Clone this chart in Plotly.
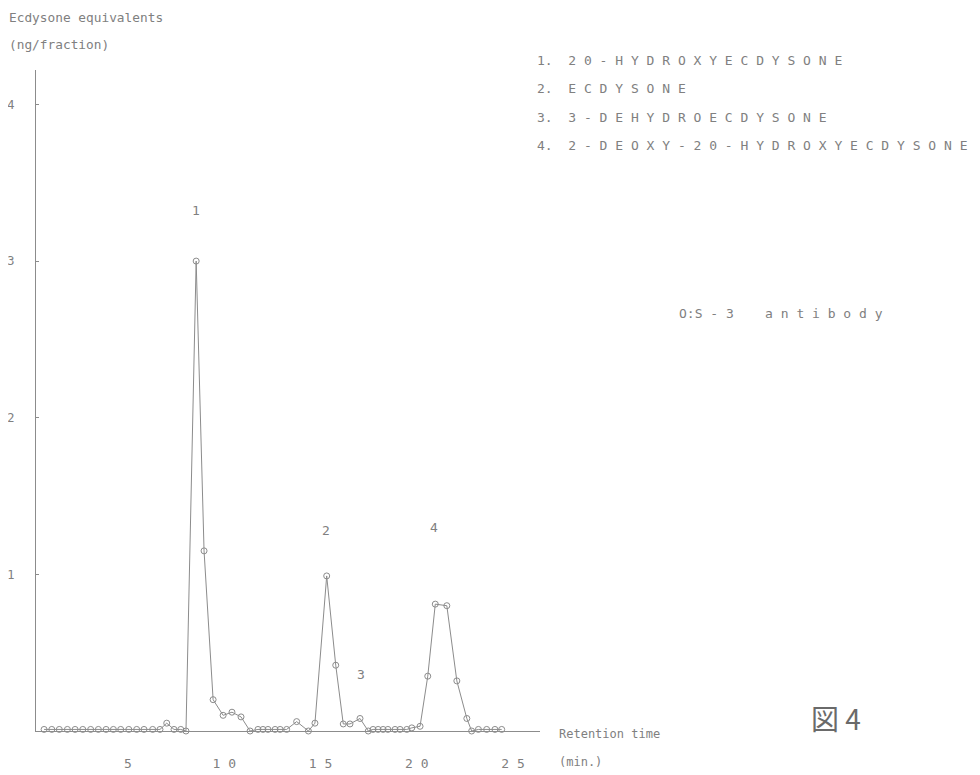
import plotly.graph_objects as go

# Retention time (min) and ecdysone equivalents (ng/fraction), S-3 antibody
retention_min = [
    0.64, 1.04, 1.43, 1.85, 2.25, 2.65, 3.06, 3.46, 3.86, 4.24,
    4.62, 5.04, 5.45, 5.83, 6.28, 6.66, 7.01, 7.39, 7.74, 8.01,
    8.54, 8.95, 9.42, 9.94, 10.40, 10.87, 11.34,
    11.75, 12.01, 12.27, 12.64, 12.90, 13.24, 13.76, 14.37, 14.71,
    15.32, 15.79, 16.18, 16.53, 17.05, 17.48,
    17.73, 17.99, 18.25, 18.50, 18.87, 19.13, 19.48, 19.74, 20.17,
    20.57, 20.96, 21.56, 22.08, 22.60, 22.85,
    23.20, 23.63, 24.06, 24.41,
]
ecdysone_eq = [
    0.01, 0.01, 0.01, 0.01, 0.01, 0.01, 0.01, 0.01, 0.01, 0.01,
    0.01, 0.01, 0.01, 0.01, 0.01, 0.01, 0.05, 0.01, 0.01, 0.00,
    3.00, 1.15, 0.20, 0.10, 0.12, 0.09, 0.00,
    0.01, 0.01, 0.01, 0.01, 0.01, 0.01, 0.06, 0.00, 0.05,
    0.99, 0.42, 0.045, 0.045, 0.08, 0.00,
    0.01, 0.01, 0.01, 0.01, 0.01, 0.01, 0.01, 0.02, 0.03,
    0.35, 0.81, 0.80, 0.32, 0.08, 0.00,
    0.01, 0.01, 0.01, 0.01,
]

peak_labels = ["1", "2", "3", "4"]
peak_label_x = [8.53, 15.29, 17.10, 20.90]
peak_label_y = [3.32, 1.28, 0.36, 1.30]

x_tick_vals = [5, 10, 15, 20, 25]
x_tick_text = ["5", "1 0", "1 5", "2 0", "2 5"]
y_tick_vals = [1, 2, 3, 4]
y_tick_text = ["1", "2", "3", "4"]

compound_names = [
    "1.  2 0 - H Y D R O X Y E C D Y S O N E",
    "2.  E C D Y S O N E",
    "3.  3 - D E H Y D R O E C D Y S O N E",
    "4.  2 - D E O X Y - 2 0 - H Y D R O X Y E C D Y S O N E",
]

GRAY = "#8c8c8c"
TXT = "#808080"
MONO = "DejaVu Sans Mono"

fig = go.Figure()
fig.add_trace(go.Scatter(
    x=retention_min, y=ecdysone_eq, mode="lines+markers",
    line=dict(color=GRAY, width=1),
    marker=dict(symbol="circle-open", size=6, color=GRAY, line=dict(width=1)),
    showlegend=False, cliponaxis=False,
))

for t, lx, ly in zip(peak_labels, peak_label_x, peak_label_y):
    fig.add_annotation(x=lx, y=ly, xref="x", yref="y", text=t, showarrow=False,
                       font=dict(family=MONO, size=13, color=TXT))

def ann(text, x, y, xanchor="left", size=12, color=TXT, family=MONO):
    fig.add_annotation(x=x, y=y, xref="paper", yref="paper", text=text,
                       showarrow=False, xanchor=xanchor, yanchor="middle",
                       font=dict(family=family, size=size, color=color))

# page pixel -> paper helpers (plot area on the page: x 36..540, y 70..731)
def px(p):
    return (p - 36) / 504.0

def py(p):
    return (731 - p) / 661.0

ann("Ecdysone equivalents", px(7), py(17), size=12.8)
ann("(ng/fraction)", px(7), py(44), size=12.8)
for i, name in enumerate(compound_names):
    ann(name, px(535), py(60 + 28.5 * i), size=13)
ann("O:S - 3    a n t i b o d y", px(677), py(313), size=13)
ann("Retention time", px(557), py(734), size=12)
ann("(min.)", px(557), py(762), size=12)
ann("図 4", px(836), py(718), xanchor="center", size=28, color="#6a6a6a",
    family="Noto Sans CJK JP")

# the page body has an 8px margin, so the figure's own margins are offset by 8
fig.update_layout(
    width=980, height=775,
    margin=dict(l=28, r=448, t=62, b=52),
    paper_bgcolor="white", plot_bgcolor="white",
    xaxis=dict(range=[0.22, 26.4], showgrid=False, zeroline=False,
               showline=True, linecolor=GRAY, linewidth=1, automargin=False,
               tickvals=x_tick_vals, ticktext=x_tick_text, ticks="",
               ticklabelstandoff=20,
               tickfont=dict(family=MONO, size=13, color=TXT)),
    yaxis=dict(range=[0, 4.22], showgrid=False, zeroline=False,
               showline=True, linecolor=GRAY, linewidth=1, automargin=False,
               tickvals=y_tick_vals, ticktext=y_tick_text, ticks="inside",
               ticklen=3, tickcolor=GRAY, ticklabelstandoff=18,
               tickfont=dict(family=MONO, size=12, color=TXT)),
)

fig.write_html("out.html")
